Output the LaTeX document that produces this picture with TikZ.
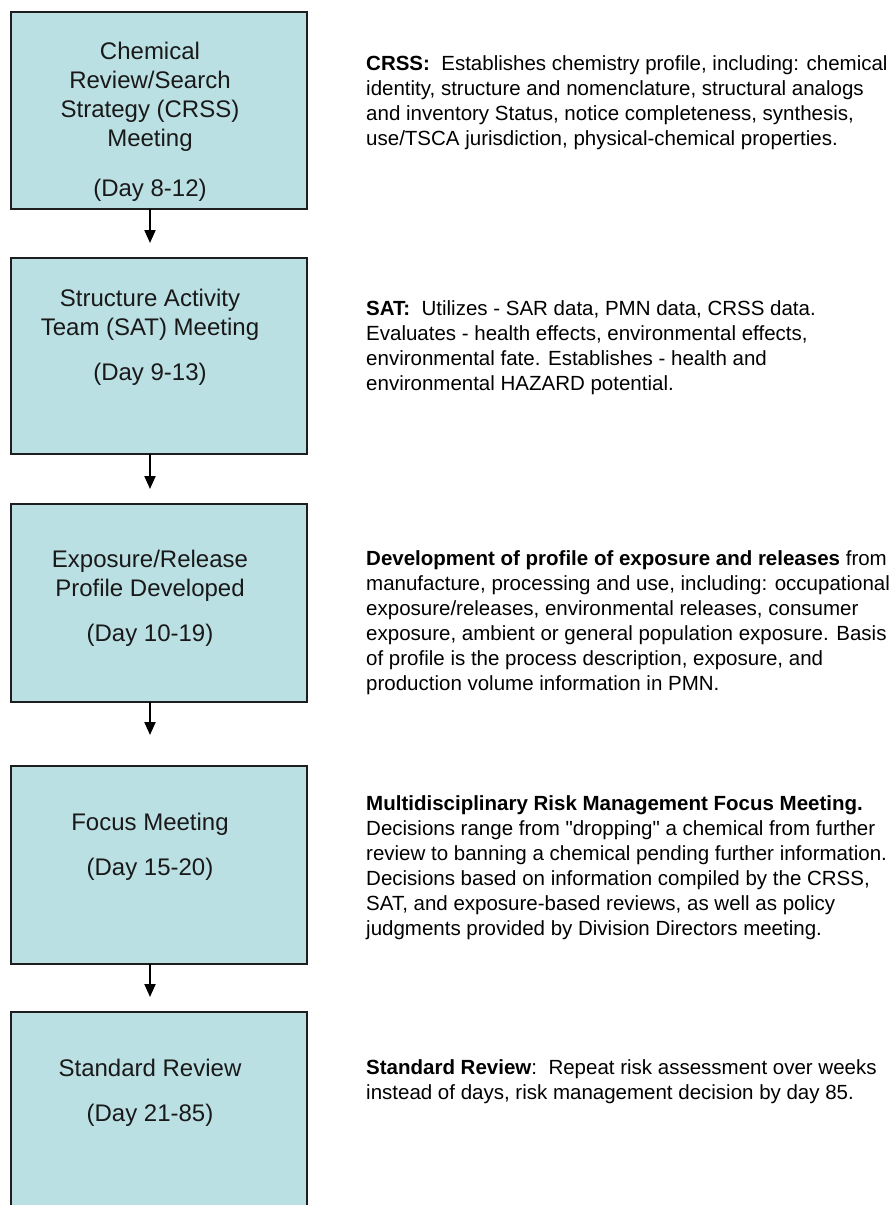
\documentclass[tikz,border=0pt]{standalone}
\usepackage{fontspec}
\setmainfont{Liberation Sans}[Ligatures=TeXOff]
\usetikzlibrary{arrows.meta}
\definecolor{boxfill}{RGB}{187,224,227}
\definecolor{boxline}{RGB}{30,30,30}
\tikzset{
  stagebox/.style={draw=boxline, fill=boxfill, line width=1.5pt, minimum width=296pt, inner sep=0pt, outer sep=0pt},
  stagetext/.style={align=center, inner sep=0pt, font=\fontsize{24}{29}\selectfont, text=black!90},
  desctext/.style={align=left, anchor=west, inner sep=0pt, font=\fontsize{20.5}{25}\selectfont, text=black},
  flowarrow/.style={line width=2pt, -{Triangle[length=13pt,width=11pt]}}
}
\begin{document}
\begin{tikzpicture}[x=1pt, y=-1pt]
\useasboundingbox (0,0) rectangle (892,1205);
\clip (0,0) rectangle (892,1205);
\fill[white] (0,0) rectangle (892,1205);

% boxes
\node[stagebox, minimum height=197pt] (b1) at (159,110.5) {};
\node[stagebox, minimum height=196pt] (b2) at (159,356) {};
\node[stagebox, minimum height=198pt] (b3) at (159,603) {};
\node[stagebox, minimum height=198pt] (b4) at (159,865) {};
\node[stagebox, minimum height=218pt] (b5) at (159,1121) {};

% box texts
\node[stagetext] (l1) at (150,121.5) {Chemical\\Review/Search\\Strategy (CRSS)\\Meeting\\[21pt](Day 8-12)};
\node[stagetext] (l2) at (150,337) {Structure Activity\\Team (SAT) Meeting\\[16pt](Day 9-13)};
\node[stagetext] (l3) at (150,598) {Exposure/Release\\Profile Developed\\[16pt](Day 10-19)};
\node[stagetext] (l4) at (150,846.5) {Focus Meeting\\[16pt](Day 15-20)};
\node[stagetext] (l5) at (150,1092.5) {Standard Review\\[16pt](Day 21-85)};

% arrows
\coordinate (t1) at (150,243);
\coordinate (t2) at (150,489);
\coordinate (t3) at (150,735);
\coordinate (t4) at (150,997);
\draw[flowarrow] (b1.south -| t1) -- (t1);
\draw[flowarrow] (b2.south -| t2) -- (t2);
\draw[flowarrow] (b3.south -| t3) -- (t3);
\draw[flowarrow] (b4.south -| t4) -- (t4);

% descriptions
\node[desctext] (d1) at (366,102.5) {\textbf{CRSS:}\ \ Establishes chemistry profile, including: chemical\\identity, structure and nomenclature, structural analogs\\and inventory Status, notice completeness, synthesis,\\use/TSCA jurisdiction, physical-chemical properties.};
\node[desctext] (d2) at (366,347.5) {\textbf{SAT:}\ \ Utilizes - SAR data, PMN data, CRSS data.\\Evaluates - health effects, environmental effects,\\environmental fate. Establishes - health and\\environmental HAZARD potential.};
\node[desctext] (d3) at (366,622.5) {\textbf{Development of profile of exposure and releases} from\\manufacture, processing and use, including: occupational\\exposure/releases, environmental releases, consumer\\exposure, ambient or general population exposure. Basis\\of profile is the process description, exposure, and\\production volume information in PMN.};
\node[desctext] (d4) at (366,867.5) {\textbf{Multidisciplinary Risk Management Focus Meeting.}\\Decisions range from "dropping" a chemical from further\\review to banning a chemical pending further information.\\Decisions based on information compiled by the CRSS,\\SAT, and exposure-based reviews, as well as policy\\judgments provided by Division Directors meeting.};
\node[desctext] (d5) at (366,1081.5) {\textbf{Standard Review}:\ \ Repeat risk assessment over weeks\\instead of days, risk management decision by day 85.};
\end{tikzpicture}
\end{document}
